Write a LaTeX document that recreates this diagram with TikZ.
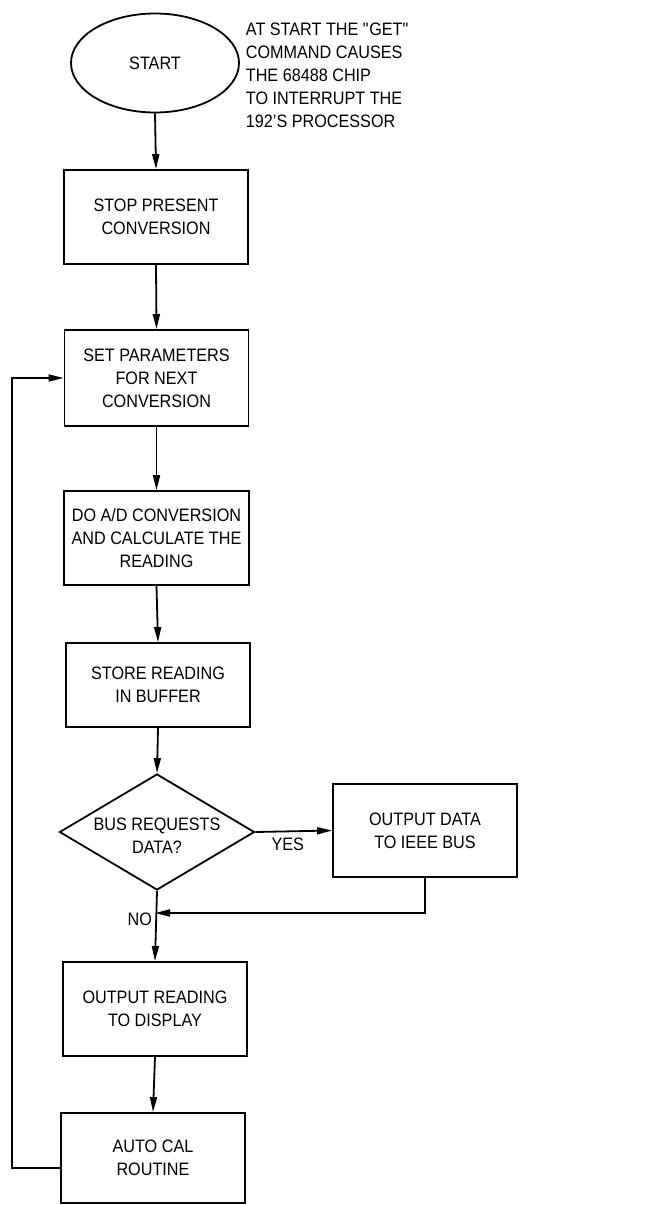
\documentclass[tikz,border=0pt]{standalone}
\usepackage{fontspec}
\setmainfont{Liberation Sans}[FakeStretch=0.9]
\usetikzlibrary{positioning, shapes, arrows.meta}

\begin{document}
\begin{tikzpicture}[x=1pt, y=-1pt, line width=1.8pt,
    font=\fontsize{18}{23}\selectfont,
    box/.style={draw, rectangle, minimum width=184pt, align=center, inner sep=2pt},
    arr/.style={-{Triangle[length=15pt, width=7pt]}}]
        \useasboundingbox (0,0) rectangle (660,1205);

        % Main column
        \node[draw, ellipse, minimum width=168pt, minimum height=99pt] (start) at (155,63) {START};
        \node[anchor=north west, align=left, inner sep=0pt] (note) at (245,22)
          {AT START THE \textquotedbl GET\textquotedbl\\COMMAND CAUSES\\THE 68488 CHIP\\TO INTERRUPT THE\\192'S PROCESSOR};
        \node[box, minimum height=94pt] (stop) at (156,217) {STOP PRESENT\\CONVERSION};
        \node[box, minimum height=96pt] (setp) at (156.5,378) {SET PARAMETERS\\FOR NEXT\\CONVERSION};
        \node[box, minimum height=94pt, minimum width=185pt] (conv) at (156.5,538) {DO A/D CONVERSION\\AND CALCULATE THE\\READING};
        \node[box, minimum height=84pt] (store) at (158,685) {STORE READING\\IN BUFFER};
        \node[draw, diamond, minimum width=195pt, minimum height=116pt, inner sep=0pt] (bus) at (157,832) {};
        \node[align=center] (bustext) at (157,836) {BUS REQUESTS\\DATA?};
        \node[box, minimum height=93pt] (ieee) at (425,830.5) {OUTPUT DATA\\TO IEEE BUS};
        \node[box, minimum height=94pt] (disp) at (155,1009) {OUTPUT READING\\TO DISPLAY};
        \node[box, minimum height=90pt] (cal) at (153,1158) {AUTO CAL\\ROUTINE};

        % Straight arrows
        \foreach \a/\b in {start/stop, stop/setp, setp/conv, conv/store, store/bus, disp/cal} {
          \draw[arr] (\a.south) -- (\b.north);
        }

        % Branches
        \draw[arr] (bus.east) -- node[below=2pt, xshift=-6pt] (yes) {YES} (ieee.west);
        \draw[arr] (bus.south) -- node[left, pos=0.4] (no) {NO} (disp.north);
        \coordinate (join) at (155,913);
        \draw[arr] (ieee.south) |- (join);

        % Loop back
        \coordinate (corner) at (12,1168);
        \draw[arr] (cal.west |- corner) -- (corner) |- (setp.west);
      \end{tikzpicture}
\end{document}
